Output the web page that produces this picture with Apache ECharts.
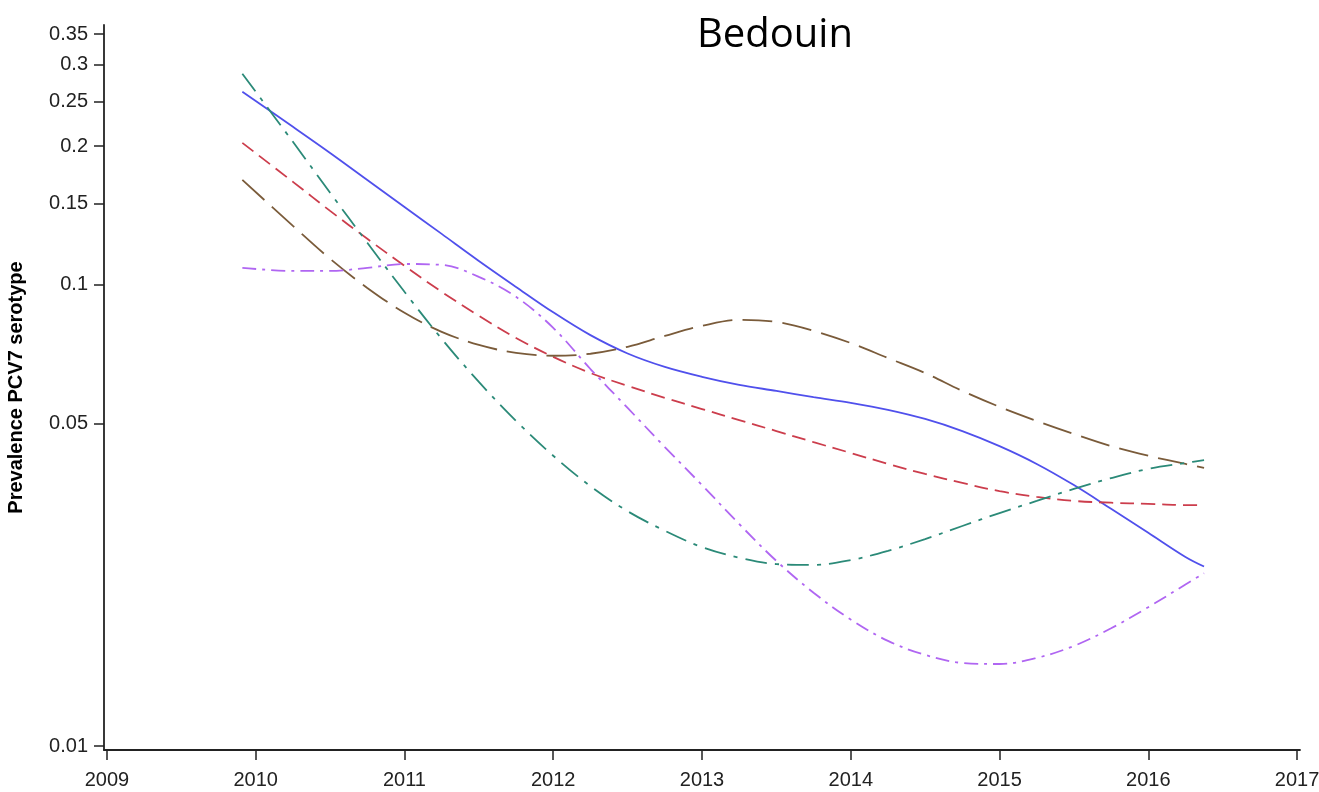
<!DOCTYPE html>
<html>
<head>
<meta charset="utf-8">
<script src="https://cdn.jsdelivr.net/npm/echarts@6/dist/echarts.min.js"></script>
<style>
html,body{margin:0;padding:0;background:#fff;}
#chart{width:1319px;height:792px;}
</style>
</head>
<body>
<div id="chart"></div>
<script>
const years = [2009.91, 2010.25, 2010.5, 2010.75, 2011, 2011.25, 2011.5, 2011.75, 2012, 2012.25, 2012.5, 2012.75, 2013, 2013.25, 2013.5, 2013.75, 2014, 2014.25, 2014.5, 2014.75, 2015, 2015.25, 2015.5, 2015.75, 2016, 2016.25, 2016.375];
const blueSolid = [0.2623, 0.2202, 0.1933, 0.1689, 0.1476, 0.1290, 0.1127, 0.0990, 0.0872, 0.0778, 0.0710, 0.0664, 0.0632, 0.0607, 0.0589, 0.0571, 0.0555, 0.0536, 0.0512, 0.0482, 0.0447, 0.0409, 0.0368, 0.0327, 0.0290, 0.0257, 0.0245];
const redDashed = [0.2032, 0.1673, 0.1447, 0.1259, 0.1100, 0.0966, 0.0857, 0.0767, 0.0698, 0.0644, 0.0604, 0.0569, 0.0538, 0.0509, 0.0482, 0.0456, 0.0432, 0.0409, 0.0389, 0.0372, 0.0357, 0.0347, 0.0340, 0.0337, 0.0335, 0.0333, 0.0333];
const brownLongDash = [0.1689, 0.1343, 0.1139, 0.0985, 0.0870, 0.0791, 0.0741, 0.0712, 0.0702, 0.0709, 0.0734, 0.0775, 0.0815, 0.0840, 0.0831, 0.0795, 0.0748, 0.0694, 0.0644, 0.0589, 0.0544, 0.0507, 0.0475, 0.0447, 0.0426, 0.0409, 0.0401];
const tealDashDot = [0.2869, 0.2043, 0.1584, 0.1234, 0.0966, 0.0764, 0.0616, 0.0507, 0.0426, 0.0366, 0.0323, 0.0293, 0.0270, 0.0256, 0.0248, 0.0247, 0.0253, 0.0265, 0.0281, 0.0300, 0.0320, 0.0340, 0.0361, 0.0381, 0.0399, 0.0411, 0.0417];
const purpleDashDot = [0.1089, 0.1072, 0.1072, 0.1089, 0.1110, 0.1105, 0.1041, 0.0942, 0.0807, 0.0657, 0.0541, 0.0445, 0.0368, 0.0303, 0.0252, 0.0215, 0.0188, 0.0169, 0.01576, 0.01514, 0.01506, 0.01552, 0.01648, 0.0180, 0.0200, 0.0224, 0.0237];
const xTicks = [2009, 2010, 2011, 2012, 2013, 2014, 2015, 2016, 2017];
const yTicks = [0.01, 0.05, 0.1, 0.15, 0.2, 0.25, 0.3, 0.35];

function pairs(vals) { return years.map((y, i) => [y, vals[i]]); }
function mk(name, vals, color, type) {
  return {
    name: name, type: 'line', data: pairs(vals), smooth: 0.35, showSymbol: false, symbol: 'none',
    lineStyle: { color: color, width: 1.8, type: type }, z: 3
  };
}
const chart = echarts.init(document.getElementById('chart'), null, { renderer: 'canvas' });
chart.setOption({
  animation: false,
  backgroundColor: '#ffffff',
  title: {
    text: 'Bedouin', left: 770, top: 11, textAlign: 'center',
    textStyle: { fontFamily: 'Open Sans', fontSize: 40, fontWeight: 'normal', color: '#000' }
  },
  grid: { left: 104, right: 19, top: 25, bottom: 42, containLabel: false, outerBoundsMode: 'none' },
  xAxis: {
    type: 'value', min: 2008.98, max: 2017.02,
    axisLine: { show: true, lineStyle: { color: '#222', width: 1.8 } },
    axisTick: { show: true, length: 10, lineStyle: { color: '#222', width: 1.5 }, customValues: xTicks },
    axisLabel: { customValues: xTicks, margin: 20, fontFamily: 'Liberation Sans', fontSize: 20, color: '#222', formatter: v => String(Math.round(v)) },
    splitLine: { show: false }
  },
  yAxis: {
    type: 'log', logBase: 10, min: 0.009802, max: 0.36612,
    name: 'Prevalence PCV7 serotype', nameLocation: 'middle', nameGap: 78,
    nameTextStyle: { fontFamily: 'Liberation Sans', fontSize: 20, fontWeight: 'bold', color: '#000' },
    axisLine: { show: true, lineStyle: { color: '#222', width: 1.8 } },
    axisTick: { show: true, length: 10, lineStyle: { color: '#222', width: 1.5 }, customValues: yTicks },
    axisLabel: { customValues: yTicks, margin: 16, fontFamily: 'Liberation Sans', fontSize: 20, color: '#222', formatter: v => String(Math.round(v * 100) / 100) },
    splitLine: { show: false }, minorTick: { show: false }
  },
  series: [
    mk('Blue', blueSolid, '#5050ec', 'solid'),
    mk('Red', redDashed, '#cc3d4c', [14, 7]),
    mk('Brown', brownLongDash, '#7a5b3a', [30, 10]),
    mk('Teal', tealDashDot, '#2b8a78', [22, 8, 4, 8]),
    mk('Purple', purpleDashDot, '#b066f2', [14, 6, 3, 6])
  ]
});
</script>
</body>
</html>
